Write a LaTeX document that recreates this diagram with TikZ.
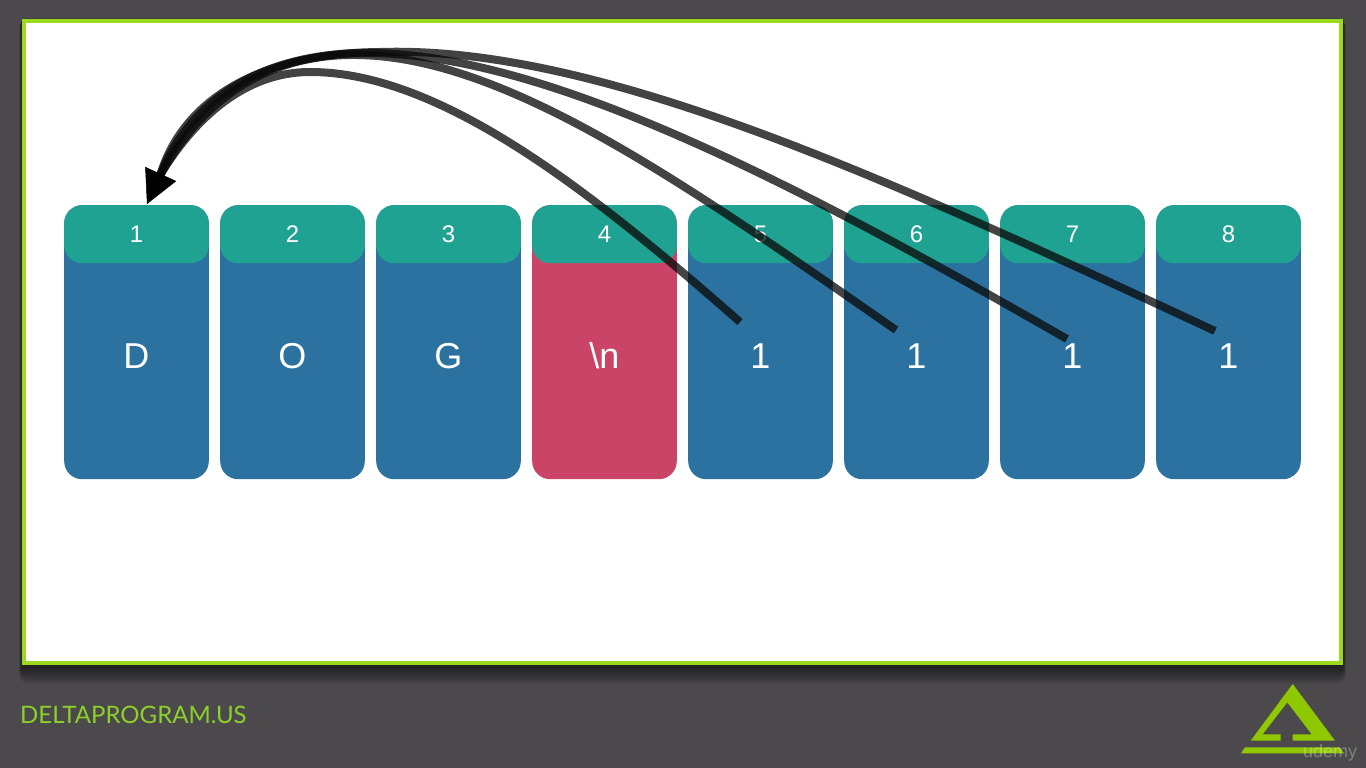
\documentclass[tikz,border=0pt]{standalone}
\usepackage{fontspec}
\setmainfont{Liberation Sans}
\newfontfamily\footfont{Lato}
\usetikzlibrary{arrows.meta,calc}
\definecolor{bgc}{HTML}{4B494C}
\definecolor{framec}{HTML}{9BD81E}
\definecolor{tealc}{HTML}{20A292}
\definecolor{bluec}{HTML}{2B72A0}
\definecolor{redc}{HTML}{CA4467}
\definecolor{logoc}{HTML}{8FC800}
\definecolor{footc}{HTML}{8ED02A}
\tikzset{
  x=1pt,y=-1pt,
  frame/.style={draw=framec,line width=4pt,fill=white,minimum width=1317pt,minimum height=642pt,inner sep=0pt,anchor=north west},
  cellbox/.style={fill=#1,rounded corners=18pt,minimum width=144.6pt,minimum height=274pt,inner sep=0pt,anchor=north west,
     text=white,font=\fontsize{36}{36}\selectfont},
  headbox/.style={fill=tealc,rounded corners=18pt,minimum width=144.6pt,minimum height=58pt,inner sep=0pt,anchor=north west,
     text=white,font=\fontsize{24}{24}\selectfont},
  jump/.style={draw=black!88!bgc,line width=8pt,opacity=.76,line cap=butt},
  tipline/.style={draw=black,line width=.5pt,-{Triangle[length=33pt,width=34pt]}},
}
\begin{document}
\begin{tikzpicture}
\useasboundingbox (0,0) rectangle (1366,768);
\fill[bgc] (0,0) rectangle (1366,768);
% soft shadow of the frame
\foreach \d in {1,...,10}{
  \fill[black,opacity=.07,rounded corners=\d pt] (22-\d*.3,19) rectangle (1343+\d*.3,664+\d*2);
}
\node[frame] (board) at (22,19) {};
% cells
\foreach \n/\x/\t/\c in {1/64/D/bluec,2/220/O/bluec,3/376/G/bluec,4/532/\textbackslash n/redc,5/688/1/bluec,6/844/1/bluec,7/1000/1/bluec,8/1156/1/bluec}{
  \node[cellbox=\c] (cell\n) at (\x,205) {};
  \node[text=white,font=\fontsize{36}{36}\selectfont] (val\n) at ($(\x,356)+(72.3,0)$) {\t};
  \node[headbox] (head\n) at (\x,205) {\raisebox{-1pt}{\n}};
}
% connectors
\coordinate (s5) at (740,322);
\coordinate (s6) at (896,330);
\coordinate (s7) at (1067,339);
\coordinate (s8) at (1215,331);
\coordinate (base) at (160.5,174.5);
\coordinate (tip) at (147,204);
\draw[jump] (s5) .. controls (590,190) and (440,72) .. (310,72) .. controls (245,72) and (195,118) .. (base);
\draw[jump] (s6) .. controls (680,180) and (500,53) .. (350,55) .. controls (255,56) and (195,112) .. (base);
\draw[jump] (s7) .. controls (790,180) and (540,50) .. (360,53) .. controls (255,55) and (188,105) .. (base);
\draw[jump] (s8) .. controls (890,180) and (600,45) .. (380,52) .. controls (260,53) and (183,100) .. (base);
\draw[tipline] (base) -- (tip);
% footer
\node[text=footc,anchor=base west,inner sep=0pt,font=\footfont\fontsize{24}{24}\selectfont] (site) at (20,723) {DELTAPROGRAM.US};
% logo
\fill[logoc] (1292.7,684) -- (1335,740.7) -- (1292.7,740.7) -- (1292.7,734.3) -- (1311.7,734.3) -- (1287.3,702.3) -- (1262.7,734.3) -- (1280.7,734.3) -- (1280.7,740.7) -- (1250.7,740.7) -- cycle;
\fill[logoc] (1245,747.3) -- (1339.3,747.3) -- (1344,753.3) -- (1241,753.3) -- cycle;
\node[text=white,opacity=.3,anchor=base,inner sep=0pt,font=\fontsize{18}{18}\selectfont] (mark) at (1330,757) {udemy};
\end{tikzpicture}
\end{document}
